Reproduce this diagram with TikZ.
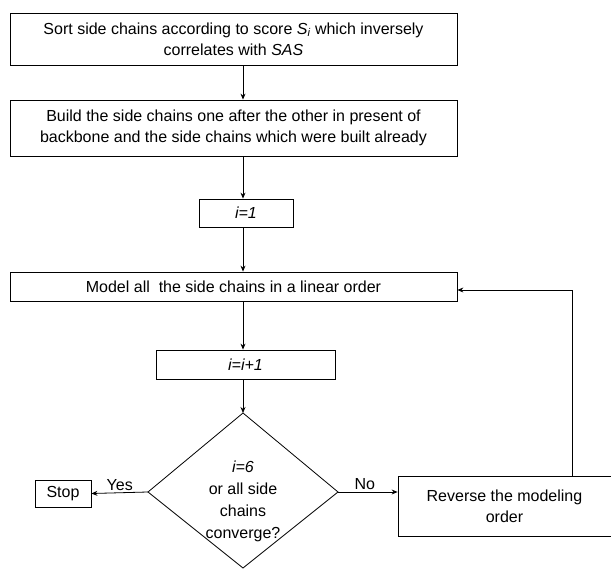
\documentclass[tikz,border=0pt]{standalone}
\usepackage{fontspec}
\setmainfont{Liberation Sans}
\usetikzlibrary{arrows.meta}
\begin{document}
\begin{tikzpicture}[x=1pt,y=-1pt,
  box/.style={draw,line width=0.8pt,inner sep=0pt,align=center,font=\fontsize{16}{21}\selectfont},
  lbl/.style={font=\fontsize{16}{21}\selectfont,inner sep=2pt},
  arr/.style={line width=0.8pt,-{Stealth[length=6pt,width=5pt]}}]
\useasboundingbox (0,0) rectangle (611,569);
\node[box,minimum width=447pt,minimum height=52pt] (sort) at (233.5,39)
  {Sort side chains according to score \textit{S\textsubscript{i}} which inversely\\correlates with \textit{SAS}};
\node[box,minimum width=447pt,minimum height=56pt] (build) at (233.5,128)
  {Build the side chains one after the other in present of\\backbone and the side chains which were built already};
\node[box,minimum width=94pt,minimum height=28pt] (i1) at (246,213) {\textit{i=1}};
\node[box,minimum width=447pt,minimum height=29pt] (model) at (233.5,286.5)
  {Model all\ \ the side chains in a linear order};
\node[box,minimum width=179pt,minimum height=29pt] (inc) at (245.5,364.5) {\textit{i=i+1}};
\coordinate (dt) at (243,413);
\coordinate (dl) at (148,492);
\coordinate (dr) at (338,492);
\coordinate (db) at (243,568);
\draw[line width=0.8pt] (dt) -- (dr) -- (db) -- (dl) -- cycle;
\node[align=center,font=\fontsize{16}{22}\selectfont] (dec) at (243,501)
  {\textit{i=6}\\or all side\\chains\\converge?};
\node[box,minimum width=56pt,minimum height=27pt] (stop) at (63,493.5) {Stop};
\node[box,minimum width=213pt,minimum height=60pt] (rev) at (504.5,506)
  {Reverse the modeling\\order};
\draw[arr] (sort.south -| dt) -- (build.north -| dt);
\draw[arr] (build.south -| dt) -- (i1.north -| dt);
\draw[arr] (i1.south -| dt) -- (model.north -| dt);
\draw[arr] (model.south -| dt) -- (inc.north -| dt);
\draw[arr] (inc.south -| dt) -- (dt);
\draw[arr] (dl) -- (stop.east) node[lbl,pos=0.5,above] {Yes};
\draw[arr] (dr) -- (rev.west |- dr) node[lbl,pos=0.45,above] {No};
\coordinate (up) at (572,290);
\draw[arr] (rev.north -| up) -- (up) -- (model.east |- up);
\end{tikzpicture}
\end{document}
